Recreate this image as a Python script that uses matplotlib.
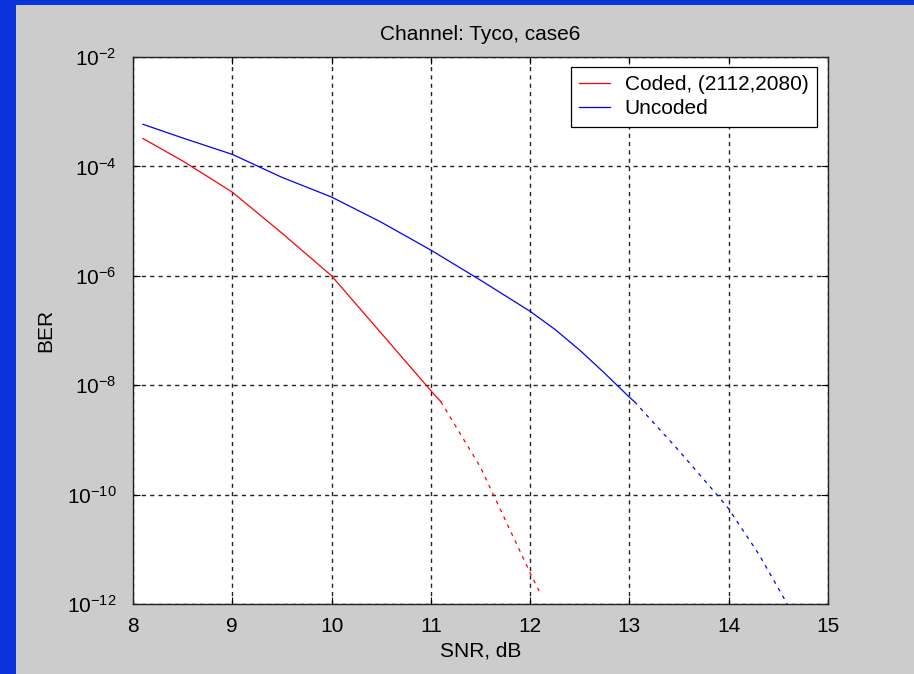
#!/usr/bin/env python3
"""BER vs SNR for Tyco channel, case6 - coded vs uncoded"""
import numpy as np
import matplotlib.pyplot as plt
from matplotlib.patches import Rectangle

plt.rcParams['font.family'] = ['Liberation Sans', 'DejaVu Sans']
plt.rcParams['mathtext.fontset'] = 'custom'
plt.rcParams['mathtext.rm'] = 'Liberation Sans'

# coded curve: solid part (simulated) and dashed part (extrapolated)
coded_snr = [8.1, 8.5, 9.0, 9.5, 10.0, 10.5, 11.0, 11.1]
coded_exp = [-3.49, -3.9, -4.47, -5.22, -6.0, -7.05, -8.1, -8.3]
coded_snr_ext = [11.1, 11.5, 12.0, 12.1]
coded_exp_ext = [-8.3, -9.5, -11.43, -11.8]

# uncoded curve
unc_snr = [8.1, 8.5, 9.0, 9.5, 10.0, 10.5, 11.0, 11.5, 12.0, 12.25, 12.5,
           12.75, 13.0, 13.05]
unc_exp = [-3.23, -3.48, -3.78, -4.2, -4.56, -5.02, -5.53, -6.08, -6.65,
           -6.98, -7.36, -7.78, -8.22, -8.3]
unc_snr_ext = [13.05, 13.5, 13.88, 14.0, 14.3, 14.59]
unc_exp_ext = [-8.3, -9.2, -10.0, -10.26, -11.08, -12.0]

xticks = [8, 9, 10, 11, 12, 13, 14, 15]
yticks = [1e-12, 1e-10, 1e-8, 1e-6, 1e-4, 1e-2]

fig = plt.figure(figsize=(9.14, 6.74), dpi=100, facecolor='#0a33dc')
# gray slide area of the matlab figure
fig.patches.append(Rectangle((16 / 914, 0), 1, 1 - 5 / 674,
                             transform=fig.transFigure, facecolor='#cccccc',
                             edgecolor='none', zorder=-10))

ax = fig.add_axes([133 / 914, 70 / 674, 695 / 914, 547 / 674])
ax.set_facecolor('white')

dash = (0, (3, 4))
ax.semilogy(coded_snr, 10.0 ** np.array(coded_exp), color='red', lw=0.9,
            label='Coded, (2112,2080)')
ax.semilogy(unc_snr, 10.0 ** np.array(unc_exp), color='blue', lw=0.9,
            label='Uncoded')
ax.semilogy(coded_snr_ext, 10.0 ** np.array(coded_exp_ext), color='red',
            lw=0.9, linestyle=dash)
ax.semilogy(unc_snr_ext, 10.0 ** np.array(unc_exp_ext), color='blue',
            lw=0.9, linestyle=dash)

ax.set_xlim(8, 15)
ax.set_ylim(1e-12, 1e-2)
ax.set_xticks(xticks)
ax.set_yticks(yticks)
ax.minorticks_off()
ax.grid(True, color='#222222', linestyle=(0, (3, 3)), linewidth=1.0)
ax.tick_params(direction='in', length=5, width=0.8, top=True, right=True,
               labelsize=15, colors='black')
ax.tick_params(axis='x', pad=9)
ax.tick_params(axis='y', pad=12)
for s in ax.spines.values():
    s.set_linewidth(1.0)
    s.set_color('#222222')

ax.set_title('Channel: Tyco, case6', fontsize=15, pad=12)
ax.set_xlabel('SNR, dB', fontsize=15, labelpad=4)
ax.set_ylabel('BER', fontsize=15, labelpad=8)

leg = ax.legend(loc='upper right', bbox_to_anchor=(0.984, 0.982),
                borderaxespad=0, fancybox=False, framealpha=1,
                edgecolor='black', fontsize=15, handlelength=1.5,
                handletextpad=0.7, borderpad=0.4, labelspacing=0.25)
leg.get_frame().set_linewidth(0.9)

fig.savefig('out.png', dpi=100, facecolor=fig.get_facecolor())
